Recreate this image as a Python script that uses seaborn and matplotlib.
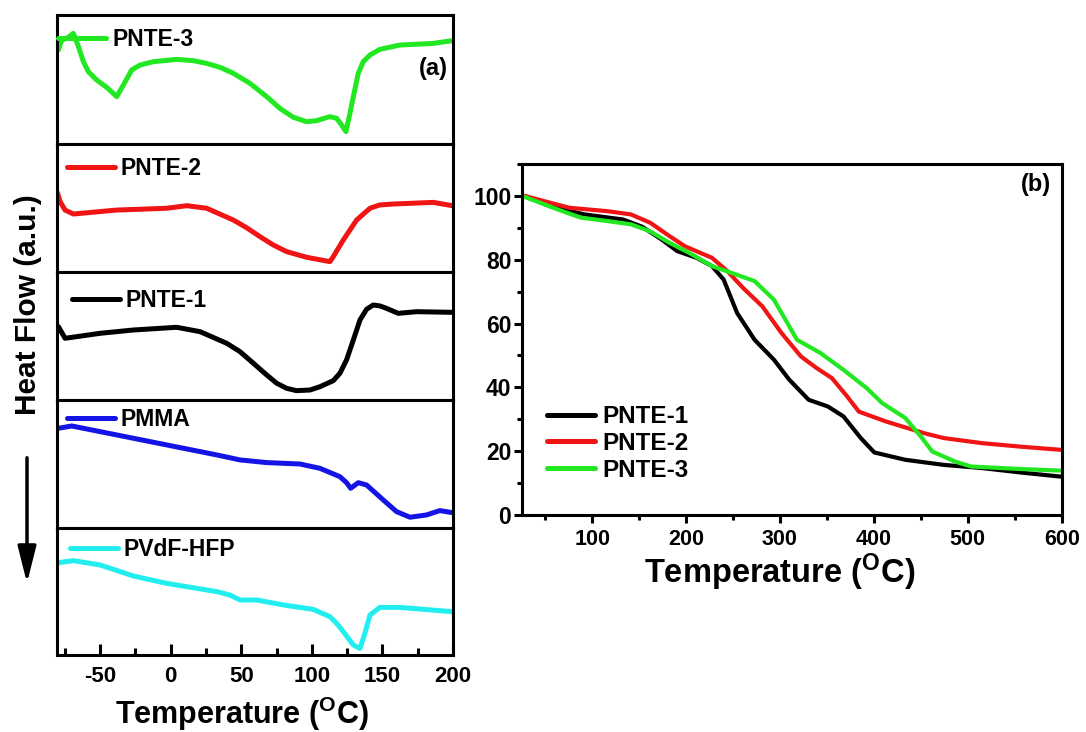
import numpy as np
import pandas as pd
import matplotlib
matplotlib.use("Agg")
import matplotlib.pyplot as plt
from matplotlib.ticker import MultipleLocator
import seaborn as sns

# ---------------- data: DSC (panel a), heat flow in arbitrary units (0-100 per strip)
t_pnte3 = [-79.5, -77.1, -73.6, -68.9, -65.3, -61.8, -58.3, -52.4, -45.3, -38.2, -33.5, -27.6, -21.7, -12.2, 4.3, 16.1, 25.5, 35, 44.4, 56.2, 68, 77.4, 86.9, 96.3, 103.4, 112.8, 117.6, 121.1, 124.2, 127, 129.4, 132.9, 136.4, 141.2, 148.2, 162.4, 186, 199.5]
h_pnte3 = [72.9, 80.6, 81.9, 85.8, 75.5, 63.8, 56.1, 49.6, 43.9, 36.7, 45.7, 57.4, 61.2, 63.8, 65.6, 64.6, 62.5, 59.4, 54.8, 47.0, 36.7, 27.6, 20.7, 17.3, 18.1, 21.2, 19.9, 14.7, 9.6, 23.8, 36.7, 54.8, 63.8, 69.0, 73.4, 76.7, 78.0, 80.1]

t_pnte2 = [-80.2, -78.3, -74.8, -68.9, -38.2, -2.8, 11.4, 25.5, 44.4, 53.8, 63.3, 72.7, 82.2, 96.3, 112.8, 115.2, 122.3, 131.7, 141.2, 148.2, 157.7, 186, 199.5]
h_pnte2 = [62.0, 55.0, 48.4, 45.3, 48.4, 49.8, 51.8, 49.8, 40.6, 34.6, 27.6, 21.1, 15.9, 11.5, 8.1, 12.0, 25.0, 40.6, 49.8, 52.4, 53.1, 54.4, 51.8]

t_pnte1 = [-79.5, -74.8, -50, -26.4, 4.3, 20.8, 39.7, 49.1, 58.6, 68, 75.1, 82.2, 89.2, 98.7, 105.8, 115.2, 119.9, 124.6, 129.4, 134.1, 138.8, 143.5, 148.2, 152.9, 161.2, 174.2, 199.5]
h_pnte1 = [57.3, 48.2, 52.1, 54.7, 56.8, 53.4, 44.3, 37.8, 28.7, 19.6, 13.1, 9.1, 7.3, 7.8, 10.4, 15.1, 20.9, 31.3, 46.9, 62.5, 70.9, 74.2, 73.5, 71.6, 67.7, 69.0, 68.5]

t_pmma = [-79.5, -70.1, -50, -26.4, 9, 32.6, 49.1, 68, 91.6, 105.8, 119.9, 124.6, 127.5, 132.9, 138.8, 150.6, 160, 169.5, 181.3, 190.7, 199.5]
h_pmma = [77.9, 79.7, 75.3, 70.1, 62.3, 57.1, 53.2, 51.1, 50.0, 46.6, 40.1, 35.4, 31.0, 35.4, 33.6, 21.9, 12.8, 8.4, 10.2, 13.6, 12.0]

t_pvdf = [-79.5, -68.9, -50, -26.4, -2.8, 32.6, 42, 49.1, 60.9, 79.8, 101, 112.8, 117.6, 122.3, 129.4, 134.1, 137.6, 141.2, 148.2, 162.4, 199.5]
h_pvdf = [72.7, 74.3, 70.9, 62.2, 56.4, 49.9, 47.2, 43.3, 43.3, 39.4, 35.9, 30.2, 24.9, 18.4, 7.9, 5.2, 17.1, 31.5, 37.5, 37.5, 34.1]

dsc_labels = ["PNTE-3", "PNTE-2", "PNTE-1", "PMMA", "PVdF-HFP"]
dsc_colors = ["#22e822", "#f01414", "#000000", "#1414e6", "#22eef0"]

# ---------------- data: TGA (panel b), weight %
t_tga1 = [28, 54.9, 91.9, 133, 153.5, 174.2, 190.6, 211.2, 227.6, 240, 254.4, 273, 293.5, 309.9, 330.6, 351.1, 367.6, 386.1, 400.5, 433.4, 474.6, 515.7, 556.9, 600]
w_tga1 = [100, 96.8, 94.2, 92.6, 90.3, 86.3, 82.7, 80.6, 78, 73.8, 63.3, 54.9, 48.7, 42.4, 36.1, 34, 30.9, 24.1, 19.6, 17.3, 15.7, 14.7, 13.3, 12]

t_tga2 = [28, 75.4, 116.6, 141.3, 161.8, 182.4, 198.9, 227.6, 244.1, 260.6, 281.2, 301.7, 322.3, 338.8, 355.3, 371.7, 384, 412.9, 454, 474.6, 515.7, 556.9, 600]
w_tga2 = [100, 96.3, 95.2, 94.2, 91.6, 87.4, 84.2, 80.6, 76.4, 71.2, 65.4, 57, 49.7, 46.1, 42.9, 37.1, 32.4, 29.3, 25.6, 24.1, 22.5, 21.4, 20.4]

t_tga3 = [28, 63, 87.8, 116.6, 141.3, 161.8, 182.4, 203, 227.6, 248.2, 273, 293.5, 318.2, 342.9, 367.6, 392.2, 408.7, 433.4, 450, 462.2, 486.9, 503.4, 556.9, 600]
w_tga3 = [99.7, 95.8, 93.2, 92.1, 91.1, 88.9, 85.3, 82.2, 78, 75.9, 73.3, 67.5, 54.9, 50.8, 45.5, 39.8, 35.1, 30.4, 24.6, 19.9, 16.7, 15.2, 14.4, 13.9]

tga_labels = ["PNTE-1", "PNTE-2", "PNTE-3"]
tga_colors = ["#000000", "#f01414", "#22e822"]

# ---------------- style
sns.set_theme(style="white")
plt.rcParams["font.family"] = ["Liberation Sans", "DejaVu Sans"]
plt.rcParams["font.weight"] = "bold"
plt.rcParams["text.color"] = "black"
plt.rcParams["axes.labelcolor"] = "black"
plt.rcParams["xtick.color"] = "black"
plt.rcParams["ytick.color"] = "black"
plt.rcParams["axes.unicode_minus"] = False
plt.rcParams["mathtext.fontset"] = "custom"
plt.rcParams["mathtext.rm"] = "Liberation Sans:bold"
plt.rcParams["mathtext.bf"] = "Liberation Sans:bold"
plt.rcParams["mathtext.it"] = "Liberation Sans:bold"

W, H = 1086, 732
fig = plt.figure(figsize=(W / 100, H / 100), dpi=100)
fig.patch.set_facecolor("white")

def fx(px):
    return px / W

def fy(py):
    return 1 - py / H

xlabel_txt = r"Temperature ($^{\rm O}$C)"

# ---------------- panel (a)
tops = [15, 144, 272, 400, 528]
bots = [144, 272, 400, 528, 655]
left_a, right_a = 57, 453
dsc_t = [t_pnte3, t_pnte2, t_pnte1, t_pmma, t_pvdf]
dsc_h = [h_pnte3, h_pnte2, h_pnte1, h_pmma, h_pvdf]
leg_pos = [(0.003, 0.812), (0.0245, 0.81), (0.037, 0.78), (0.0245, 0.85), (0.033, 0.827)]

for i in range(5):
    ax = fig.add_axes([fx(left_a), fy(bots[i]), fx(right_a - left_a), (bots[i] - tops[i]) / H])
    df = pd.DataFrame({"T": dsc_t[i], "H": dsc_h[i]})
    sns.lineplot(data=df, x="T", y="H", ax=ax, color=dsc_colors[i], lw=3.6,
                 label=dsc_labels[i], sort=False)
    ax.set_xlim(-80.5, 200)
    ax.set_ylim(0, 100)
    ax.set_yticks([])
    ax.set_ylabel("")
    ax.set_xlabel("")
    for s in ax.spines.values():
        s.set_linewidth(2.2)
        s.set_color("black")
    leg = ax.legend(loc="center left", bbox_to_anchor=leg_pos[i], frameon=False,
                    borderpad=0, borderaxespad=0, handlelength=2.1, handletextpad=0.25,
                    prop={"size": 16.5, "weight": "bold"})
    for h in leg.legend_handles:
        h.set_linewidth(3.6)
    if i < 4:
        ax.tick_params(axis="x", bottom=False, labelbottom=False)
    else:
        ax.xaxis.set_major_locator(MultipleLocator(50))
        ax.xaxis.set_minor_locator(MultipleLocator(25))
        ax.tick_params(axis="x", which="major", direction="in", length=8, width=2.2,
                       bottom=True, labelsize=16, pad=8, colors="black")
        ax.tick_params(axis="x", which="minor", direction="in", length=5, width=2.2, bottom=True)
        for lab in ax.get_xticklabels():
            lab.set_fontweight("bold")
        ax.set_xlabel(xlabel_txt, fontsize=22, fontweight="bold", labelpad=6)
        ax.xaxis.set_label_coords(0.467, -0.315)
        ax.xaxis.get_label().set_va("top")

fig.text(fx(433), fy(68), "(a)", fontsize=17, fontweight="bold", ha="center", va="center")
fig.text(fx(28), fy(305), "Heat Flow (a.u.)", fontsize=21.5, fontweight="bold",
         rotation=90, ha="center", va="center")
fig.add_artist(matplotlib.patches.FancyArrowPatch(
    (fx(27), fy(455)), (fx(27), fy(586)), transform=fig.transFigure,
    arrowstyle="-|>,head_length=0.8,head_width=0.2", mutation_scale=28,
    lw=2.5, color="black"))

# ---------------- panel (b)
left_b, right_b, top_b, bot_b = 521.7, 1061.7, 164, 515
axb = fig.add_axes([fx(left_b), fy(bot_b), fx(right_b - left_b), (bot_b - top_b) / H])
tga_t = [t_tga1, t_tga2, t_tga3]
tga_w = [w_tga1, w_tga2, w_tga3]
for i in range(3):
    df = pd.DataFrame({"T": tga_t[i], "W": tga_w[i]})
    sns.lineplot(data=df, x="T", y="W", ax=axb, color=tga_colors[i], lw=3.0,
                 label=tga_labels[i], sort=False)
axb.set_xlim(25, 600)
axb.set_ylim(0, 110)
axb.set_xlabel(xlabel_txt, fontsize=23.5, fontweight="bold")
axb.xaxis.set_label_coords(0.477, -0.105)
axb.xaxis.get_label().set_va("top")
axb.set_ylabel("")
axb.xaxis.set_major_locator(MultipleLocator(100))
axb.xaxis.set_minor_locator(MultipleLocator(50))
axb.yaxis.set_major_locator(MultipleLocator(20))
axb.yaxis.set_minor_locator(MultipleLocator(10))
axb.tick_params(axis="both", which="major", direction="out", length=6, width=2.2,
                colors="black", left=True, bottom=True)
axb.tick_params(axis="x", which="major", labelsize=15.5, pad=4)
axb.tick_params(axis="y", which="major", labelsize=16.5, pad=1.5)
axb.tick_params(axis="both", which="minor", direction="out", length=3.5, width=2.2,
                left=True, bottom=True)
for lab in axb.get_xticklabels() + axb.get_yticklabels():
    lab.set_fontweight("bold")
for s in axb.spines.values():
    s.set_linewidth(2.2)
    s.set_color("black")
legb = axb.legend(loc="center left", bbox_to_anchor=(0.046, 0.204), frameon=False,
                  borderpad=0, borderaxespad=0, handlelength=2.0, handletextpad=0.3,
                  labelspacing=0.16, prop={"size": 17.5, "weight": "bold"})
for h in legb.legend_handles:
    h.set_linewidth(3.6)
fig.text(fx(1036), fy(185), "(b)", fontsize=17, fontweight="bold", ha="center", va="center")

fig.savefig("out.png", dpi=100, facecolor="white")
